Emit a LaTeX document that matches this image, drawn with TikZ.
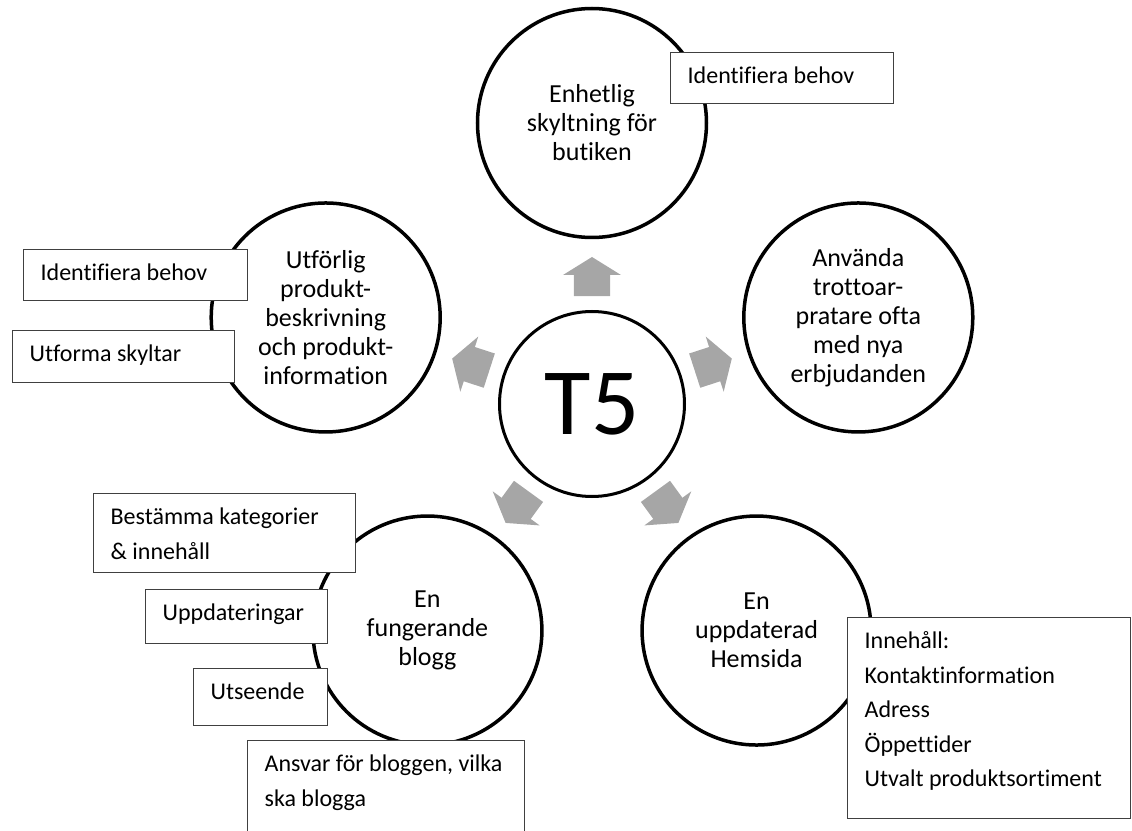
\documentclass[tikz,border=0pt]{standalone}
\usepackage{fontspec}
\setmainfont{Carlito}[Ligatures=NoCommon]
\definecolor{arrowgray}{HTML}{A6A6A6}
\definecolor{boxline}{HTML}{404040}
\tikzset{
  goal/.style={circle, draw, line width=3.5pt, fill=white, minimum size=229pt, inner sep=2pt,
    align=flush center, font=\fontsize{26}{29}\selectfont},
  hub/.style={circle, draw, line width=3pt, fill=white, minimum size=185pt, inner sep=0pt,
    font=\fontsize{95}{95}\selectfont},
  todo/.style={draw=boxline, line width=1.3pt, fill=white, anchor=north west, align=flush left,
    inner xsep=17pt, inner ysep=0pt, text height=31pt, font=\fontsize{24}{34.5}\selectfont}
}
\begin{document}
\begin{tikzpicture}[x=1pt, y=1pt]
    
    \useasboundingbox (-592,-426) rectangle (540,404);
    \clip (-592,-426) rectangle (540,404);
    
    % gray arrows round the hub
    \foreach \a in {90,18,-54,-126,162}
    \fill[arrowgray, rotate=\a] (108,-18) -- (129,-18) -- (129,-29) -- (147,0)
    -- (129,29) -- (129,18) -- (108,18) -- cycle;
    
    \node[hub] (t5) at (0,0) {T5};
    \node[goal] (skylt) at (90:281) {Enhetlig\\skyltning för\\butiken};
    \node[goal] (trottoar) at (18:280) {Använda\\trottoar-\\pratare ofta\\med nya\\erbjudanden};
    \node[goal] (hemsida) at (-54:280) {En\\uppdaterad\\Hemsida};
    \node[goal] (blogg) at (-126:280) {En\\fungerande\\blogg};
    \node[goal] (produkt) at (162:280) {Utförlig\\produkt-\\beskrivning\\och produkt-\\information};
    
    % task boxes
    \node[todo, text width=189pt, text depth=20pt] (behov1) at (78,352) {Identifiera behov};
    \node[todo, text width=190pt, text depth=20pt] (behov2) at (-569,155) {Identifiera behov};
    \node[todo, text width=188pt, text depth=21pt] (skyltar) at (-580,74) {Utforma skyltar};
    \node[todo, text width=228pt, text depth=48pt] (kategorier) at (-499,-89) {Bestämma kategorier\\\& innehåll};
    \node[todo, text width=148pt, text depth=23pt] (uppdat) at (-447,-185) {Uppdateringar};
    \node[todo, text width=100pt, text depth=26pt] (utseende) at (-399,-264) {Utseende};
    \node[todo, text width=243pt, text depth=79pt] (ansvar) at (-345,-336) {Ansvar för bloggen, vilka\\ska blogga};
    \node[todo, text width=249pt, text depth=170pt] (innehall) at (255,-213)
    {Innehåll:\\Kontaktinformation\\Adress\\Öppettider\\Utvalt produktsortiment};
   
\end{tikzpicture}
\end{document}
